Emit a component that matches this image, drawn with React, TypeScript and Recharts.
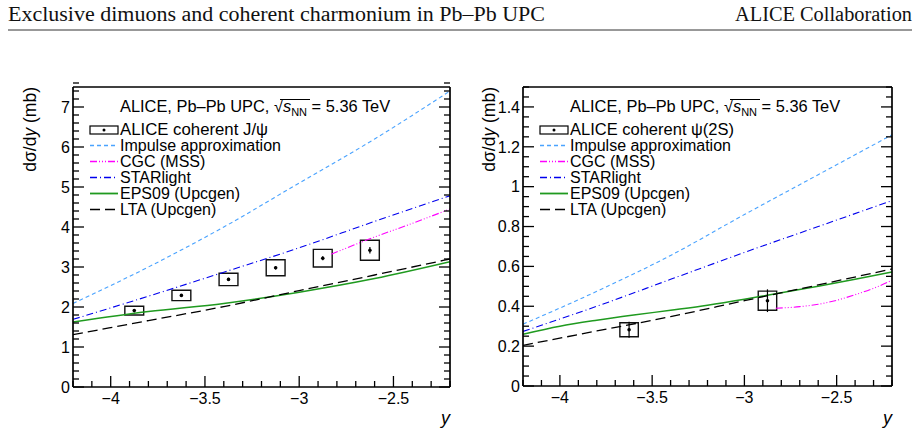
import React from "react";
import { LineChart, Line, XAxis, YAxis, Scatter, ErrorBar, ReferenceArea } from "recharts";

// ---- data ----
const rapidityMajors = [-4, -3.5, -3, -2.5];
const jpsiYMajors = [0, 1, 2, 3, 4, 5, 6, 7];
const psi2sYMajors = [0, 0.2, 0.4, 0.6, 0.8, 1, 1.2, 1.4];

const jpsiBins = [-3.875, -3.625, -3.375, -3.125, -2.875, -2.625];
const jpsiValues = [1.91, 2.29, 2.69, 2.98, 3.22, 3.42];
const jpsiStat = [0.03, 0.03, 0.04, 0.04, 0.05, 0.08];
const jpsiSyst = [0.11, 0.13, 0.155, 0.2, 0.22, 0.25];

const psi2sBins = [-3.625, -2.875];
const psi2sValues = [0.282, 0.428];
const psi2sStat = [0.04, 0.057];
const psi2sSyst = [0.035, 0.048];

const modelY = [-4.2, -3.8, -3.4, -3.0, -2.6, -2.2];
const jpsiImpulse = [2.09, 3.0, 4.0, 5.1, 6.2, 7.4];
const jpsiStarlight = [1.69, 2.27, 2.87, 3.48, 4.14, 4.78];
const jpsiEps09 = [1.625, 1.885, 2.09, 2.37, 2.71, 3.13];
const jpsiLta = [1.31, 1.66, 2.01, 2.41, 2.8, 3.2];
const jpsiCgcY = [-2.83, -2.6, -2.4, -2.2];
const jpsiCgc = [3.32, 3.75, 4.09, 4.45];

const psi2sImpulse = [0.31, 0.475, 0.655, 0.86, 1.06, 1.26];
const psi2sStarlight = [0.274, 0.4, 0.535, 0.67, 0.8, 0.93];
const psi2sLta = [0.204, 0.276, 0.348, 0.428, 0.507, 0.587];
const psi2sEps09Y = [-4.2, -4.0, -3.8, -3.6, -3.4, -3.2, -3.0, -2.8, -2.6, -2.4, -2.2];
const psi2sEps09 = [0.26, 0.3, 0.33, 0.356, 0.38, 0.405, 0.435, 0.468, 0.5, 0.535, 0.572];
const psi2sCgcY = [-2.83, -2.7, -2.6, -2.5, -2.4, -2.3, -2.2];
const psi2sCgc = [0.39, 0.398, 0.41, 0.43, 0.458, 0.49, 0.53];

const FONT = "'Liberation Sans', Arial, Helvetica, sans-serif";
const SERIF = "'Liberation Serif', 'Times New Roman', serif";
const BOX_HALF = 0.05;

const STYLE = {
  impulse: { stroke: "#4aa3ff", dash: "4 3", width: 1.1 },
  cgc: { stroke: "#ff00ff", dash: "7 2 1 2 1 2 1 2", width: 1.1 },
  starlight: { stroke: "#0000ee", dash: "7 3 1 3", width: 1.1 },
  eps09: { stroke: "#1f9a1f", dash: undefined, width: 1.5 },
  lta: { stroke: "#000", dash: "10 5", width: 1.3 },
};

const pairs = (xs: number[], vs: number[]) => xs.map((x, i) => ({ x, v: vs[i] }));
const points = (xs: number[], vs: number[], stat: number[], syst: number[]) =>
  xs.map((x, i) => ({ x, v: vs[i], stat: stat[i], syst: syst[i] }));

function stepTicks(lo: number, hi: number, step: number) {
  const n = Math.round((hi - lo) / step);
  return Array.from({ length: n + 1 }, (_, i) => +(lo + i * step).toFixed(4));
}

const fmtMinus = (v: number) => (v < 0 ? "\u2212" : "") + String(Math.abs(v));

// ROOT style: ticks point into the frame, labels only on majors
function makeTick(side: string, majors: number[], showLabel: boolean, fmt = fmtMinus) {
  return (props: any) => {
    const { x, y, payload } = props;
    const major = majors.some((m) => Math.abs(m - payload.value) < 1e-6);
    const len = major ? 11 : 6;
    let x2 = x;
    let y2 = y;
    if (side === "bottom") y2 = y - len;
    if (side === "top") y2 = y + len;
    if (side === "left") x2 = x + len;
    if (side === "right") x2 = x - len;
    return (
      <g>
        <line x1={x} y1={y} x2={x2} y2={y2} stroke="#000" strokeWidth={1.3} />
        {showLabel && major && side === "bottom" && (
          <text x={x} y={y + 16.5} textAnchor="middle" fontSize={16} fontFamily={FONT} fill="#000">
            {fmt(payload.value)}
          </text>
        )}
        {showLabel && major && side === "left" && (
          <text x={x - 3} y={y} dy="0.36em" textAnchor="end" fontSize={16} fontFamily={FONT} fill="#000">
            {fmt(payload.value)}
          </text>
        )}
      </g>
    );
  };
}

interface PanelProps {
  plotLeft: number;
  plotRight: number;
  plotBottom: number;
  yMax: number;
  yMajors: number[];
  yMinorStep: number;
  data: { x: number; v: number; stat: number; syst: number }[];
  impulse: { x: number; v: number }[];
  cgc: { x: number; v: number }[];
  starlight: { x: number; v: number }[];
  eps09: { x: number; v: number }[];
  lta: { x: number; v: number }[];
}

function Panel(p: PanelProps) {
  const xTicks = stepTicks(-4.2, -2.2, 0.1);
  const yTicks = stepTicks(0, p.yMax, p.yMinorStep);
  const axisLine = { stroke: "#000", strokeWidth: 1.7 };
  const curve = (key: keyof typeof STYLE, data: { x: number; v: number }[]) => (
    <Line
      data={data}
      dataKey="v"
      type="monotone"
      stroke={STYLE[key].stroke}
      strokeWidth={STYLE[key].width}
      strokeDasharray={STYLE[key].dash}
      dot={false}
      activeDot={false}
      isAnimationActive={false}
    />
  );
  // axes are 1px thick so they still render; margins compensate
  return (
    <LineChart
      width={460}
      height={448}
      margin={{ top: 86, right: 460 - p.plotRight - 1, bottom: 448 - p.plotBottom - 1, left: p.plotLeft - 1 }}
    >
      <XAxis
        dataKey="x"
        type="number"
        domain={[-4.2, -2.2]}
        allowDataOverflow
        ticks={xTicks}
        interval={0}
        height={1}
        tickSize={0}
        tickMargin={0}
        axisLine={axisLine}
        tickLine={false}
        tick={makeTick("bottom", rapidityMajors, true)}
      />
      <XAxis
        xAxisId="top"
        orientation="top"
        type="number"
        domain={[-4.2, -2.2]}
        allowDataOverflow
        ticks={xTicks}
        interval={0}
        height={1}
        tickSize={0}
        tickMargin={0}
        axisLine={axisLine}
        tickLine={false}
        tick={makeTick("top", rapidityMajors, false)}
      />
      <YAxis
        type="number"
        domain={[0, p.yMax]}
        allowDataOverflow
        ticks={yTicks}
        interval={0}
        width={1}
        tickSize={0}
        tickMargin={0}
        axisLine={axisLine}
        tickLine={false}
        tick={makeTick("left", p.yMajors, true, (v) => String(v))}
      />
      <YAxis
        yAxisId="right"
        orientation="right"
        type="number"
        domain={[0, p.yMax]}
        allowDataOverflow
        ticks={yTicks}
        interval={0}
        width={1}
        tickSize={0}
        tickMargin={0}
        axisLine={axisLine}
        tickLine={false}
        tick={makeTick("right", p.yMajors, false)}
      />
      {curve("impulse", p.impulse)}
      {curve("starlight", p.starlight)}
      {curve("cgc", p.cgc)}
      {curve("eps09", p.eps09)}
      {curve("lta", p.lta)}
      {p.data.map((d) => (
        <ReferenceArea
          key={d.x}
          x1={d.x - BOX_HALF}
          x2={d.x + BOX_HALF}
          y1={d.v - d.syst}
          y2={d.v + d.syst}
          fill="none"
          stroke="#111"
          strokeWidth={1.4}
          ifOverflow="visible"
        />
      ))}
      <Scatter
        data={p.data}
        dataKey="v"
        isAnimationActive={false}
        shape={(s: any) => <circle cx={s.cx} cy={s.cy} r={1.8} fill="#000" />}
      >
        <ErrorBar dataKey="stat" direction="y" width={0} stroke="#000" strokeWidth={1.2} />
      </Scatter>
    </LineChart>
  );
}

function LegendSample({ x, y, k }: { x: number; y: number; k: keyof typeof STYLE }) {
  const s = STYLE[k];
  return (
    <line x1={x} y1={y} x2={x + 28} y2={y} stroke={s.stroke} strokeWidth={s.width + 0.3} strokeDasharray={s.dash} />
  );
}

function Legend({ left, particle }: { left: number; particle: string }) {
  const tx = left + 47;
  const rows: { k: keyof typeof STYLE; label: string }[] = [
    { k: "impulse", label: "Impulse approximation" },
    { k: "cgc", label: "CGC (MSS)" },
    { k: "starlight", label: "STARlight" },
    { k: "eps09", label: "EPS09 (Upcgen)" },
    { k: "lta", label: "LTA (Upcgen)" },
  ];
  return (
    <g fontFamily={FONT} fontSize={16} fill="#000">
      <text x={tx} y={112} fontSize={16.4}>
        ALICE, Pb–Pb UPC, √<tspan fontStyle="italic">s</tspan>
        <tspan fontSize={11} dy={4}>NN</tspan>
        <tspan dy={-4}> = 5.36 TeV</tspan>
      </text>
      <line x1={tx + 160} y1={99.5} x2={tx + 190} y2={99.5} stroke="#000" strokeWidth={1} />
      <rect x={left + 17} y={126} width={28} height={8} fill="none" stroke="#000" strokeWidth={1.2} />
      <circle cx={left + 31} cy={130} r={1.5} fill="#000" />
      <text x={tx} y={134.5} textLength={particle.length > 3 ? 164 : 148} lengthAdjust="spacingAndGlyphs">
        ALICE coherent {particle}
      </text>
      {rows.map((r, i) => (
        <g key={r.k}>
          <LegendSample x={left + 17} y={145.5 + 16 * i} k={r.k} />
          <text x={tx} y={150.5 + 16 * i}>{r.label}</text>
        </g>
      ))}
    </g>
  );
}

export default function App() {
  return (
    <div style={{ position: "absolute", left: 0, top: 0, width: 920, height: 448, background: "#fff" }}>
      <div style={{ position: "absolute", left: 0, top: 0 }}>
        <Panel
          plotLeft={73}
          plotRight={450}
          plotBottom={387}
          yMax={7.5}
          yMajors={jpsiYMajors}
          yMinorStep={0.2}
          data={points(jpsiBins, jpsiValues, jpsiStat, jpsiSyst)}
          impulse={pairs(modelY, jpsiImpulse)}
          cgc={pairs(jpsiCgcY, jpsiCgc)}
          starlight={pairs(modelY, jpsiStarlight)}
          eps09={pairs(modelY, jpsiEps09)}
          lta={pairs(modelY, jpsiLta)}
        />
      </div>
      <div style={{ position: "absolute", left: 460, top: 0 }}>
        <Panel
          plotLeft={63}
          plotRight={432}
          plotBottom={386}
          yMax={1.5}
          yMajors={psi2sYMajors}
          yMinorStep={0.05}
          data={points(psi2sBins, psi2sValues, psi2sStat, psi2sSyst)}
          impulse={pairs(modelY, psi2sImpulse)}
          cgc={pairs(psi2sCgcY, psi2sCgc)}
          starlight={pairs(modelY, psi2sStarlight)}
          eps09={pairs(psi2sEps09Y, psi2sEps09)}
          lta={pairs(modelY, psi2sLta)}
        />
      </div>
      <svg
        width={920}
        height={448}
        style={{ position: "absolute", left: 0, top: 0, pointerEvents: "none" }}
      >
        <text x={8} y={21} fontFamily={SERIF} fontSize={20} fill="#111" textLength={537} lengthAdjust="spacingAndGlyphs">
          Exclusive dimuons and coherent charmonium in Pb–Pb UPC
        </text>
        <text x={735} y={21} fontFamily={SERIF} fontSize={20} fill="#111" textLength={177} lengthAdjust="spacingAndGlyphs">
          ALICE Collaboration
        </text>
        <line x1={8} y1={30} x2={912} y2={30} stroke="#333" strokeWidth={1} />

        <Legend left={73} particle="J/ψ" />
        <Legend left={523} particle="ψ(2S)" />

        <g fontFamily={FONT} fontSize={17.5} fill="#000">
          <text transform="translate(36,87) rotate(-90)" textAnchor="end">
            dσ/d<tspan fontStyle="italic">y</tspan> (mb)
          </text>
          <text transform="translate(495,87) rotate(-90)" textAnchor="end">
            dσ/d<tspan fontStyle="italic">y</tspan> (mb)
          </text>
          <text x={450} y={424} textAnchor="end" fontStyle="italic" fontSize={18}>y</text>
          <text x={892} y={424} textAnchor="end" fontStyle="italic" fontSize={18}>y</text>
        </g>
      </svg>
    </div>
  );
}
